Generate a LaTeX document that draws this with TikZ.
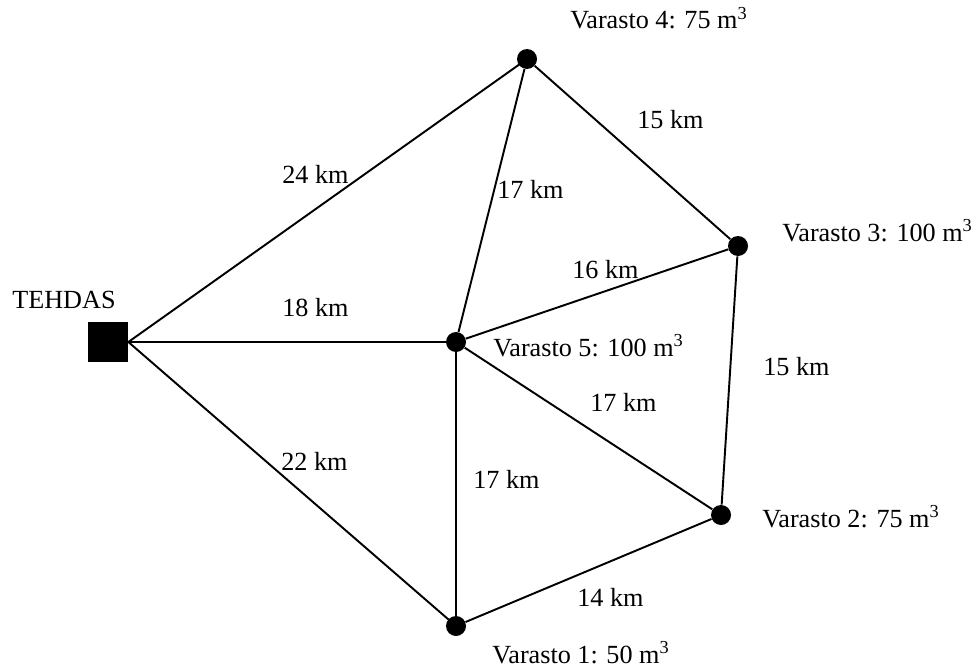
\documentclass[tikz,border=0pt]{standalone}
\usepackage{fontspec}
\setmainfont{Liberation Serif}
\usetikzlibrary{positioning}

\begin{document}
\begin{tikzpicture}[
        x=0.02cm, y=-0.02cm,
        font=\fontsize{14.9}{17}\selectfont,
        depot/.style={circle, fill=black, inner sep=0pt, minimum size=0.4cm},
        factory/.style={rectangle, fill=black, inner sep=0pt, minimum size=0.8cm},
        road/.style={line width=1.1pt},
        lbl/.style={anchor=base west, inner sep=0pt},
    ]
        \useasboundingbox (0,0) rectangle (976,669);

        % varastot ja tehdas
        \node[factory] (tehdas) at (108,342) {};
        \node[depot] (v1) at (456,626) {};
        \node[depot] (v2) at (721,515) {};
        \node[depot] (v3) at (738,246) {};
        \node[depot] (v4) at (527,59) {};
        \node[depot] (v5) at (456,342) {};

        \node[lbl] (tlbl) at (12,308) {TEHDAS};
        \node[lbl] (v1lbl) at (492,663) {Varasto 1: 50 m\textsuperscript{3}};
        \node[lbl] (v2lbl) at (762,527) {Varasto 2: 75 m\textsuperscript{3}};
        \node[lbl] (v3lbl) at (782,241) {Varasto 3: 100 m\textsuperscript{3}};
        \node[lbl] (v4lbl) at (570,29) {Varasto 4: 75 m\textsuperscript{3}};
        \node[lbl] (v5lbl) at (493,356) {Varasto 5: 100 m\textsuperscript{3}};

        % tiet
        \draw[road] (tehdas.east) -- (v4.center);
        \draw[road] (tehdas.east) -- (v5.center);
        \draw[road] (tehdas.east) -- (v1.center);
        \draw[road] (v4) -- (v3);
        \draw[road] (v4) -- (v5);
        \draw[road] (v5) -- (v3);
        \draw[road] (v3) -- (v2);
        \draw[road] (v5) -- (v2);
        \draw[road] (v5) -- (v1);
        \draw[road] (v1) -- (v2);

        % etaisyydet
        \node[lbl] (d14) at (282,183) {24 km};
        \node[lbl] (d43) at (637,129) {15 km};
        \node[lbl] (d45) at (497,198) {17 km};
        \node[lbl] (d53) at (572,278) {16 km};
        \node[lbl] (d15) at (282,316) {18 km};
        \node[lbl] (d32) at (763,375) {15 km};
        \node[lbl] (d52) at (590,411) {17 km};
        \node[lbl] (d11) at (281,470) {22 km};
        \node[lbl] (d51) at (473,488) {17 km};
        \node[lbl] (d12) at (577,606) {14 km};
    \end{tikzpicture}
\end{document}
